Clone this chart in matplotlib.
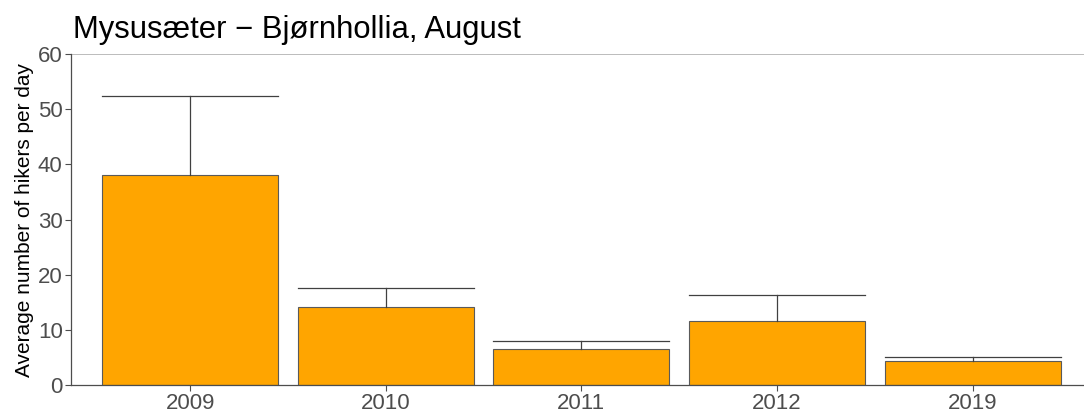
import matplotlib
matplotlib.use("Agg")
import matplotlib.pyplot as plt
import numpy as np

years = ["2009", "2010", "2011", "2012", "2019"]
means = [38.0, 14.2, 6.5, 11.6, 4.35]
upper = [52.4, 17.6, 8.0, 16.3, 5.05]
yticks = [0, 10, 20, 30, 40, 50, 60]

plt.rcParams['font.family'] = ['Liberation Sans', 'DejaVu Sans']

fig = plt.figure(figsize=(10.84, 4.2), dpi=100)
ax = fig.add_axes([0.0655, 0.0833, 0.9345, 0.7877])

x = np.arange(len(years))
width = 0.9
ax.bar(x, means, width=width, color="#FFA500", edgecolor="#5a5a5a", linewidth=0.8, zorder=2)
for xi, m, u in zip(x, means, upper):
    ax.plot([xi, xi], [m, u], color="#404040", linewidth=0.9, zorder=3)
    ax.plot([xi - width / 2, xi + width / 2], [u, u], color="#404040", linewidth=0.9, zorder=3)

ax.axhline(60, color="#b0b0b0", linewidth=1.2, zorder=1)

ax.set_xlim(-0.61, 4.57)
ax.set_ylim(0, 60)
ax.set_xticks(x)
ax.set_xticklabels(years)
ax.set_yticks(yticks)
ax.tick_params(axis='both', colors="#4d4d4d", labelsize=16, length=4, width=0.8, pad=2)
ax.tick_params(axis='both', labelcolor="#4d4d4d")

for s in ["top", "right"]:
    ax.spines[s].set_visible(False)
for s in ["left", "bottom"]:
    ax.spines[s].set_color("#4d4d4d")
    ax.spines[s].set_linewidth(0.9)

ax.set_ylabel("Average number of hikers per day", fontsize=15, color="black", labelpad=3)
fig.text(0.0675, 0.91, "Mysusæter − Bjørnhollia, August", fontsize=22.3, ha="left", va="baseline", color="black")

fig.savefig("out.png", dpi=100)
